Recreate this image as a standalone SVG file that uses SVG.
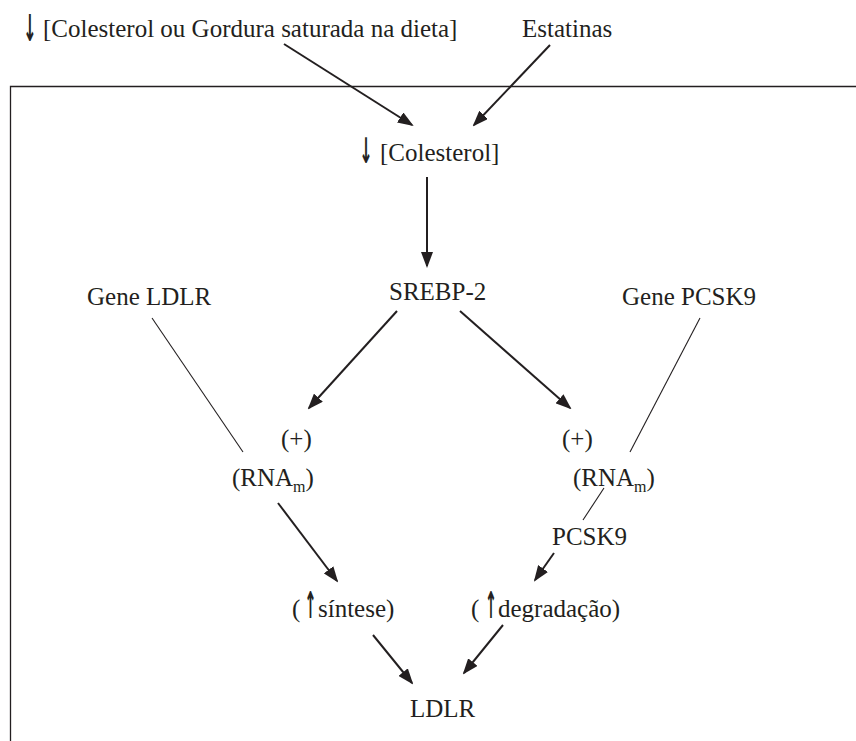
<svg xmlns="http://www.w3.org/2000/svg" width="856" height="741" viewBox="0 0 856 741">
<style>
text{font-family:"Liberation Serif","Times New Roman",serif;font-size:25px;fill:#231f20}
.sym{font-family:"DejaVu Sans",sans-serif;font-weight:bold;font-size:32px;text-anchor:middle;opacity:0.99}
.sub{font-size:16px}
.thick{stroke:#231f20;stroke-width:2;fill:none;marker-end:url(#ah)}
.thin{stroke:#231f20;stroke-width:1.1;fill:none}
</style>
<defs>
<marker id="ah" markerWidth="8" markerHeight="6" refX="7" refY="3" orient="auto" markerUnits="strokeWidth">
<path d="M0,0 L8,3 L0,6 Z" fill="#231f20"/>
</marker>
</defs>
<rect width="856" height="741" fill="#fff"/>
<path d="M10.5,741 V86.5 H856" fill="none" stroke="#231f20" stroke-width="1.3"/>
<g id="connectors">
<line class="thick" x1="284" y1="44" x2="412" y2="125"/>
<line class="thick" x1="550" y1="45" x2="474" y2="125"/>
<line class="thick" x1="427" y1="177" x2="427" y2="266"/>
<line class="thick" x1="397" y1="311" x2="309" y2="408"/>
<line class="thick" x1="460" y1="311" x2="570" y2="408"/>
<line class="thin" x1="152" y1="318" x2="243" y2="452"/>
<line class="thin" x1="700" y1="318" x2="630" y2="452"/>
<line class="thick" x1="278" y1="503" x2="337" y2="581"/>
<line class="thin" x1="604" y1="488" x2="583" y2="520"/>
<line class="thick" x1="554" y1="553" x2="535" y2="580"/>
<line class="thick" x1="373" y1="635" x2="412" y2="683"/>
<line class="thick" x1="503" y1="625" x2="464" y2="673"/>
</g>
<g id="dieta"><text class="sym" transform="translate(30,41) scale(0.5,1.15)">↓</text><text x="43" y="37">[Colesterol ou Gordura saturada na dieta]</text></g>
<g id="estatinas"><text x="522" y="37">Estatinas</text></g>
<g id="colesterol"><text class="sym" transform="translate(366,163) scale(0.5,1.1)">↓</text><text x="380" y="161">[Colesterol]</text></g>
<g id="srebp2"><text x="389" y="300">SREBP-2</text></g>
<g id="gene-ldlr"><text x="87" y="305">Gene LDLR</text></g>
<g id="gene-pcsk9"><text x="622" y="305">Gene PCSK9</text></g>
<g id="plus-left"><text x="281" y="447">(+)</text></g>
<g id="plus-right"><text x="562" y="447">(+)</text></g>
<g id="rna-left"><text x="232" y="486">(RNA<tspan class="sub" dy="6">m</tspan><tspan dy="-6">)</tspan></text></g>
<g id="rna-right"><text x="573" y="486">(RNA<tspan class="sub" dy="6">m</tspan><tspan dy="-6">)</tspan></text></g>
<g id="pcsk9"><text x="552" y="545">PCSK9</text></g>
<g id="sintese"><text x="292" y="617">(</text><text class="sym" transform="translate(310.5,618) scale(0.45,1.15)">↑</text><text x="318" y="617">síntese)</text></g>
<g id="degradacao"><text x="471" y="617">(</text><text class="sym" transform="translate(491,618) scale(0.45,1.15)">↑</text><text x="498" y="617">degradação)</text></g>
<g id="ldlr"><text x="410" y="717">LDLR</text></g>
</svg>
